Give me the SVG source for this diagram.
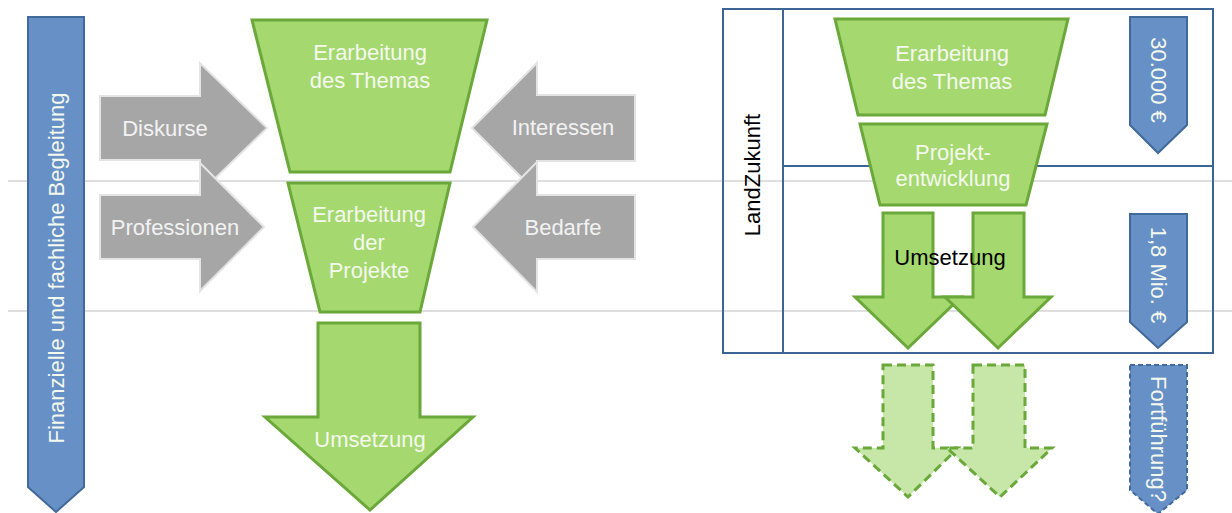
<svg xmlns="http://www.w3.org/2000/svg" width="1232" height="513" viewBox="0 0 1232 513">
<style>
.bg{fill:#ffffff}
.guide{stroke:#bfbfbf;stroke-width:1;fill:none}
.gray{fill:#a6a6a6;stroke:#e4e4e4;stroke-width:2;stroke-linejoin:miter}
.green{fill:#a5d86f;stroke:#6aa83a;stroke-width:3;stroke-linejoin:miter}
.greenD{fill:#c6e7a8;stroke:#6aa83a;stroke-width:3;stroke-dasharray:9 5;stroke-linejoin:miter}
.blue{fill:#6790c6;stroke:#41699a;stroke-width:2}
.blueD{fill:#6790c6;stroke:#41699a;stroke-width:2;stroke-dasharray:5 3}
.frame{fill:none;stroke:#3c6595;stroke-width:2}
text{font-family:"Liberation Sans",Arial,sans-serif;font-size:22px;text-anchor:middle}
.w{fill:#f4f9ee}
.wg{fill:#f2f2f2}
.k{fill:#000000}
</style>
<rect class="bg" x="0" y="0" width="1232" height="513"/>
<g id="guides">
<line class="guide" x1="8" y1="181" x2="1232" y2="181"/>
<line class="guide" x1="8" y1="311" x2="1232" y2="311"/>
</g>
<g id="begleitung">
<path class="blue" d="M28,17 H84 V487 L56,512 L28,487 Z"/>
<text class="w" transform="translate(64,268) rotate(-90)">Finanzielle und fachliche Begleitung</text>
</g>
<g id="diskurse">
<path class="gray" d="M100,96 H200 V63 L267,128 L200,193 V160 H100 Z"/>
<text class="wg" x="165" y="136">Diskurse</text>
</g>
<g id="professionen">
<path class="gray" d="M100,195 H200 V163 L264,227 L200,291 V259 H100 Z"/>
<text class="wg" x="175" y="235">Professionen</text>
</g>
<g id="interessen">
<path class="gray" d="M635,95 H537 V63 L472,128 L537,193 V161 H635 Z"/>
<text class="wg" x="563" y="135">Interessen</text>
</g>
<g id="bedarfe">
<path class="gray" d="M635,195 H537 V162 L473,227 L537,292 V259 H635 Z"/>
<text class="wg" x="563" y="235">Bedarfe</text>
</g>
<g id="thema">
<path class="green" d="M252,20 H487 L450,172 H290 Z"/>
<text class="w" x="370" y="60">Erarbeitung</text>
<text class="w" x="370" y="88">des Themas</text>
</g>
<g id="projekte">
<path class="green" d="M288,183 H450 L420,312 H320 Z"/>
<text class="w" x="369" y="222">Erarbeitung</text>
<text class="w" x="369" y="250">der</text>
<text class="w" x="369" y="278">Projekte</text>
</g>
<g id="umsetzung">
<path class="green" d="M318,323 H420 V417 H473 L370,510 L265,417 H318 Z"/>
<text class="w" x="370" y="447">Umsetzung</text>
</g>
<g id="landzukunft-box">
<rect class="frame" x="723" y="9" width="490" height="344"/>
<line class="frame" x1="783" y1="9" x2="783" y2="353"/>
<line class="frame" x1="783" y1="166" x2="1213" y2="166"/>
<text class="k" transform="translate(760,175) rotate(-90)">LandZukunft</text>
</g>
<g id="thema-r">
<path class="green" d="M835,19 H1068 L1045,115 H858 Z"/>
<text class="w" x="952" y="61">Erarbeitung</text>
<text class="w" x="952" y="89">des Themas</text>
</g>
<g id="projektentwicklung">
<path class="green" d="M860,124 H1047 L1026,205 H880 Z"/>
<text class="w" x="953" y="160">Projekt-</text>
<text class="w" x="953" y="186">entwicklung</text>
</g>
<g id="umsetzung-r">
<path class="green" d="M883,213 H933 V297 H961 L908,348 L855,297 H883 Z"/>
<path class="green" d="M973,213 H1024 V297 H1051 L998,348 L945,297 H973 Z"/>
<text class="k" x="950" y="265">Umsetzung</text>
</g>
<g id="fortfuehrung-pfeile">
<path class="greenD" d="M883,365 H933 V448 H958 L908,497 L855,448 H883 Z"/>
<path class="greenD" d="M973,365 H1025 V448 H1052 L1000,497 L947,448 H973 Z"/>
</g>
<g id="budget-30000">
<path class="blue" d="M1130,17 H1187 V125 L1158,153 L1130,125 Z"/>
<text class="w" transform="translate(1151,80) rotate(90)">30.000 €</text>
</g>
<g id="budget-18">
<path class="blue" d="M1130,214 H1187 V322 L1158,348 L1130,322 Z"/>
<text class="w" transform="translate(1151,275) rotate(90)">1,8 Mio. €</text>
</g>
<g id="fortfuehrung">
<path class="blueD" d="M1130,365 H1187 V490 L1158,514 L1130,490 Z"/>
<text class="w" transform="translate(1151,439) rotate(90)">Fortführung?</text>
</g>
</svg>
